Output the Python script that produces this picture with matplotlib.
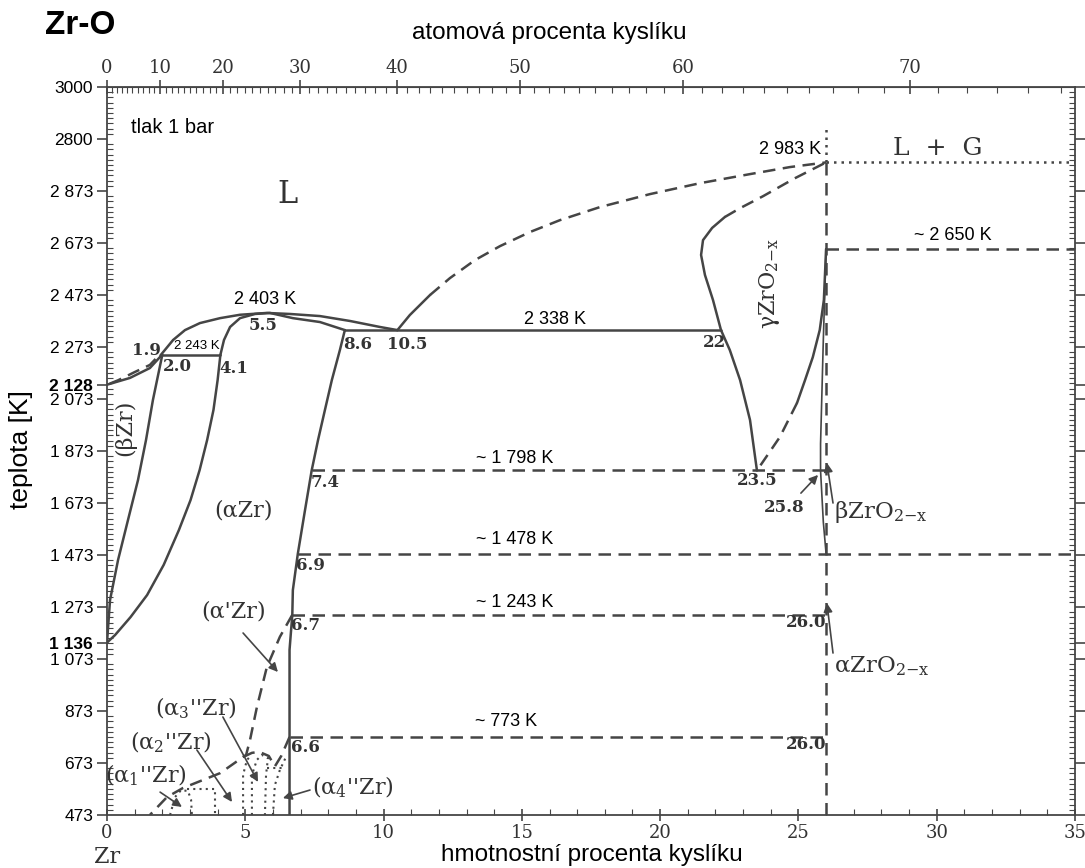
import numpy as np
import matplotlib
matplotlib.use('Agg')
import matplotlib.pyplot as plt
import matplotlib.ticker as ticker

plt.rcParams['font.family'] = 'Liberation Sans'
plt.rcParams['mathtext.fontset'] = 'dejavuserif'

LC = '#454545'
SERIF = 'DejaVu Serif'
DASH = (0, (5, 3))
DOT = (0, (1, 2))

#%% data: wt% O (x), temperature in K (y)
# L / (bZr) near pure Zr
liq_zr_w = [0, 0.83, 1.55, 1.99]
liq_zr_t = [2128, 2154, 2192, 2243]
sol_zr_w = [0.1, 0.4, 1.01, 1.55, 1.9]
sol_zr_t = [2132, 2145, 2177, 2204, 2243]

# liquidus over the (aZr) maximum
liq_a_w = [1.95, 2.39, 2.82, 3.36, 4.09, 4.81, 5.78, 6.62, 7.70, 8.79, 9.87, 10.5]
liq_a_t = [2243, 2300, 2338, 2365, 2384, 2397, 2404, 2400, 2392, 2373, 2350, 2338]
# solidus of (aZr)
sol_a_w = [4.1, 4.23, 4.45, 4.81, 5.35, 5.89, 6.72, 7.70, 8.6]
sol_a_t = [2243, 2300, 2350, 2384, 2400, 2404, 2384, 2369, 2338]

# (bZr) / (aZr + bZr)
beta_w = [2.0, 1.66, 1.41, 1.12, 0.76, 0.40, 0.11, 0.0]
beta_t = [2243, 2069, 1915, 1761, 1608, 1454, 1300, 1136]
# (aZr) / (aZr + bZr)
alpha_w = [4.1, 4.0, 3.85, 3.62, 3.35, 3.02, 2.6, 2.05, 1.45, 0.85, 0.29, 0.0]
alpha_t = [2243, 2146, 2031, 1915, 1800, 1684, 1569, 1435, 1319, 1234, 1165, 1136]

# (aZr) / (aZr + ZrO2)
solv_w = [8.6, 8.42, 8.13, 7.88, 7.63, 7.4, 7.16, 6.9, 6.72, 6.7, 6.6, 6.6, 6.6]
solv_t = [2338, 2261, 2146, 2031, 1915, 1798, 1646, 1478, 1338, 1243, 1108, 773, 473]

# liquidus 10.5 -> 2983 K
liq_o_w = [10.5, 10.95, 11.68, 12.40, 13.30, 14.21, 15.29, 16.38, 17.82, 19.63, 21.44, 23.25, 24.69, 26.0]
liq_o_t = [2338, 2396, 2473, 2538, 2607, 2661, 2715, 2761, 2811, 2861, 2903, 2938, 2965, 2983]

# gZrO2-x left boundary
gam_l_w = [23.5, 23.25, 22.89, 22.52, 22.2, 21.91, 21.62, 21.48, 21.55, 21.88, 22.34]
gam_l_t = [1798, 1992, 2146, 2261, 2338, 2454, 2550, 2627, 2684, 2731, 2773]
gam_top_w = [22.34, 22.89, 23.72, 24.87, 26.0]
gam_top_t = [2773, 2807, 2853, 2922, 2983]
# gZrO2-x right boundary
gam_r_w = [26.0, 25.92, 25.77, 25.52, 25.24, 24.95]
gam_r_t = [2650, 2454, 2338, 2234, 2146, 2058]
gam_r2_w = [24.95, 24.33, 23.5]
gam_r2_t = [2058, 1927, 1798]
# bZrO2-x boundary
bzo_w = [26.0, 25.9, 25.8, 25.8, 25.9, 26.0]
bzo_t = [2650, 2300, 1900, 1798, 1600, 1478]

# low temperature ordered phases
ap_w = [6.7, 6.25, 5.78, 5.42, 5.17, 5.03, 4.92, 4.09, 2.75, 2.17, 1.55]
ap_t = [1243, 1158, 1042, 888, 761, 704, 696, 634, 577, 542, 473]
ord_w = [4.92, 5.24, 5.5, 5.85, 6.07, 6.3, 6.6]
ord_t = [696, 712, 716, 700, 660, 700, 773]
dot_lines = [
    ([2.28, 2.46, 2.68, 2.93, 3.04, 3.07], [473, 542, 569, 565, 531, 473]),
    ([2.89, 3.90, 3.90], [573, 573, 473]),
    ([4.92, 4.92, 5.06, 5.2], [473, 627, 685, 700]),
    ([5.24, 5.24, 5.42, 5.6, 5.82, 5.75, 5.71], [473, 627, 685, 704, 692, 627, 473]),
    ([6.0, 6.07, 6.25, 6.47], [473, 588, 646, 696]),
    ([5.78, 6.33], [654, 654]),
]

# invariant lines: (T, w_from, w_to, style)
iso_lines = [
    (2243, 1.9, 4.1, '-'),
    (2338, 8.6, 22.2, '-'),
    (1798, 7.4, 26.0, DASH),
    (1478, 6.9, 35.0, DASH),
    (1243, 6.7, 26.0, DASH),
    (773, 6.6, 26.0, DASH),
    (2650, 26.0, 35.0, DASH),
    (2983, 26.0, 35.0, DOT),
]

y_ticks = [473, 673, 873, 1073, 1273, 1473, 1673, 1873, 2073, 2273, 2473, 2673, 2873, 3073, 3273]
y_labels = ['473', '673', '873', '1 073', '1 273', '1 473', '1 673', '1 873', '2 073',
            '2 273', '2 473', '2 673', '2 873', '2800', '3000']
y_extra = [1136, 2128]
y_extra_labels = ['1 136', '2 128']


def wt2at(w):
    w = np.clip(np.asarray(w, dtype=float), 0, 99.9)
    no = w / 16.0
    nz = (100 - w) / 91.22
    return 100 * no / (no + nz)


def at2wt(a):
    a = np.clip(np.asarray(a, dtype=float), 0, 99.9)
    mo = a * 16.0
    mz = (100 - a) * 91.22
    return 100 * mo / (mo + mz)


#%% figure
fig = plt.figure(figsize=(10.85, 8.68), dpi=100)
ax = fig.add_axes([107 / 1085, 53 / 868, 968 / 1085, 728 / 868])
ax.set_xlim(0, 35)
ax.set_ylim(473, 3273)

kw = dict(color=LC, lw=1.8, solid_capstyle='round')
ax.plot(liq_zr_w, liq_zr_t, **kw)
ax.plot(sol_zr_w, sol_zr_t, ls=DASH, **kw)
ax.plot(liq_a_w, liq_a_t, **kw)
ax.plot(sol_a_w, sol_a_t, **kw)
ax.plot(beta_w, beta_t, **kw)
ax.plot(alpha_w, alpha_t, **kw)
ax.plot(solv_w, solv_t, **kw)
ax.plot(liq_o_w[:3], liq_o_t[:3], **kw)
ax.plot(liq_o_w[2:], liq_o_t[2:], ls=DASH, **kw)
ax.plot(gam_l_w, gam_l_t, **kw)
ax.plot(gam_top_w, gam_top_t, ls=DASH, **kw)
ax.plot(gam_r_w, gam_r_t, **kw)
ax.plot(gam_r2_w, gam_r2_t, ls=DASH, **kw)
ax.plot(bzo_w, bzo_t, color=LC, lw=1.2)
ax.plot(ap_w, ap_t, ls=DASH, **kw)
ax.plot(ord_w, ord_t, ls=DASH, **kw)
for xs, ys in dot_lines:
    ax.plot(xs, ys, ls=DOT, color=LC, lw=1.5)

for t, w0, w1, ls in iso_lines:
    ax.plot([w0, w1], [t, t], ls=ls, **kw)

# vertical ZrO2 line
ax.plot([26.0, 26.0], [473, 2983], ls=DASH, **kw)
ax.plot([26.0, 26.0], [2983, 3120], ls=DOT, **kw)

#%% phase labels (scanned, serif)
sk = dict(family=SERIF, color='#333333', ha='center', va='center')
ax.text(6.54, 2858, 'L', fontsize=22, **sk)
ax.text(30.04, 3038, 'L  +  G', fontsize=18, **sk)
ax.text(4.92, 1646, '(αZr)', fontsize=16, **sk)
ax.text(0.65, 1961, '(βZr)', fontsize=16, rotation=90, **sk)
ax.text(23.97, 2519, 'γZrO$_{2\\mathrm{-x}}$', fontsize=16, rotation=90, **sk)
ax.text(26.3, 1638, 'βZrO$_{2\\mathrm{-x}}$', fontsize=16.5, family=SERIF, color='#333333',
        ha='left', va='center')
ax.text(26.3, 1045, 'αZrO$_{2\\mathrm{-x}}$', fontsize=16.5, family=SERIF, color='#333333',
        ha='left', va='center')
ax.text(4.56, 1254, "(α'Zr)", fontsize=16, **sk)
ax.text(3.22, 884, "(α$_3$''Zr)", fontsize=16, **sk)
ax.text(2.31, 754, "(α$_2$''Zr)", fontsize=16, **sk)
ax.text(1.41, 627, "(α$_1$''Zr)", fontsize=16, **sk)
ax.text(8.9, 581, "(α$_4$''Zr)", fontsize=16, **sk)

# composition numbers
nums = [('1.9', 1.41, 2261), ('2.0', 2.55, 2198), ('4.1', 4.6, 2192), ('5.5', 5.64, 2354),
        ('8.6', 9.07, 2284), ('10.5', 10.85, 2284), ('22', 21.95, 2292), ('23.5', 23.5, 1758),
        ('7.4', 7.9, 1752), ('6.9', 7.36, 1433), ('6.7', 7.18, 1200), ('6.6', 7.18, 733),
        ('25.8', 24.5, 1656), ('26.0', 25.28, 1213), ('26.0', 25.28, 744)]
for s, x, y in nums:
    ax.text(x, y, s, fontsize=12, family=SERIF, color='#333333', ha='center', va='center',
            fontweight='bold')

# temperatures (sans)
temps = [('2 403 K', 5.71, 2454, 13), ('2 243 K', 3.25, 2275, 9.5), ('2 338 K', 16.2, 2377, 13),
         ('~ 1 798 K', 14.75, 1846, 13), ('~ 1 478 K', 14.75, 1531, 13),
         ('~ 1 243 K', 14.75, 1292, 13), ('~ 773 K', 14.43, 831, 13),
         ('~ 2 650 K', 30.59, 2700, 13), ('2 983 K', 24.69, 3031, 13)]
for s, x, y, fs in temps:
    ax.text(x, y, s, fontsize=fs, ha='center', va='center', color='black')
ax.text(0.85, 3119, 'tlak 1 bar', fontsize=14.5, ha='left', va='center')

# arrows
arrows = [((1.92, 561), (2.71, 504)), ((4.92, 1173), (6.18, 1023)),
          ((4.19, 850), (5.46, 600)), ((3.25, 723), (4.52, 523)),
          ((7.34, 569), (6.36, 538)), ((25.09, 1711), (25.71, 1781)),
          ((26.25, 1673), (26.03, 1827)), ((26.25, 1096), (26.03, 1288))]
for tail, head in arrows:
    ax.annotate('', xy=head, xytext=tail,
                arrowprops=dict(arrowstyle='-|>', color=LC, lw=1.2, mutation_scale=13,
                                shrinkA=0, shrinkB=0))

#%% axes, ticks
ax.set_yticks(y_ticks + y_extra)
ax.set_yticklabels(y_labels + y_extra_labels)
for lab, v in zip(ax.get_yticklabels(), y_ticks + y_extra):
    if v in y_extra:
        lab.set_fontweight('bold')
ax.yaxis.set_minor_locator(ticker.FixedLocator(np.arange(473, 3274, 20)))
ax.set_xticks(np.arange(0, 36, 5))
ax.xaxis.set_minor_locator(ticker.MultipleLocator(1))

ax.tick_params(axis='y', which='major', direction='out', length=7, width=1.2, labelsize=12.5,
               right=True, color=LC, pad=3)
ax.tick_params(axis='y', which='minor', direction='in', length=4, width=0.8, right=True, color=LC)
ax.tick_params(axis='x', which='major', direction='inout', length=9, width=1.2, labelsize=13,
               color=LC, pad=2)
ax.tick_params(axis='x', which='minor', direction='in', length=4, width=0.8, color=LC)
for lab in ax.get_xticklabels():
    lab.set_family(SERIF)
    lab.set_color('#333333')
for sp in ax.spines.values():
    sp.set_color(LC)
    sp.set_linewidth(1.3)

top = ax.secondary_xaxis('top', functions=(wt2at, at2wt))
top.set_xticks(np.arange(0, 71, 10))
top.xaxis.set_minor_locator(ticker.FixedLocator(np.arange(0, 76, 1)))
top.tick_params(which='major', direction='inout', length=10, width=1.2, labelsize=13, color=LC, pad=2)
top.tick_params(which='minor', direction='in', length=4, width=0.8, color=LC)
for lab in top.get_xticklabels():
    lab.set_family(SERIF)
    lab.set_color('#333333')
top.spines['top'].set_color(LC)

fig.text(45 / 1085, 1 - 26 / 868, 'Zr-O', fontsize=24, fontweight='bold', ha='left', va='center')
fig.text(549 / 1085, 1 - 33 / 868, 'atomová procenta kyslíku', fontsize=17.5, ha='center',
         va='center')
fig.text(592 / 1085, 1 - 855 / 868, 'hmotnostní procenta kyslíku', fontsize=17.5, ha='center',
         va='center')
fig.text(107 / 1085, 1 - 857 / 868, 'Zr', fontsize=16, family=SERIF, color='#333333',
         ha='center', va='center')
fig.text(21 / 1085, 1 - 450 / 868, 'teplota [K]', fontsize=19, rotation=90, ha='center',
         va='center')

fig.savefig('out.png', dpi=100)
